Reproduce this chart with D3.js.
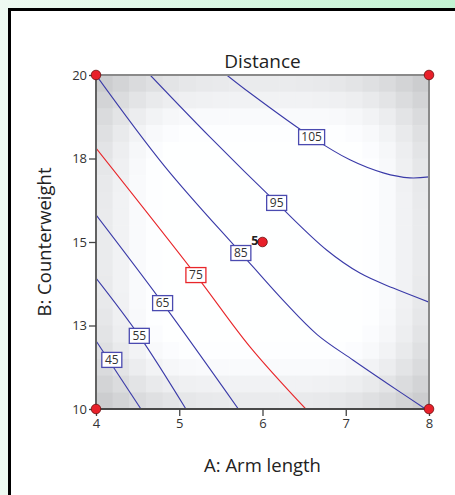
<!DOCTYPE html>
<html>
<head>
<meta charset="utf-8">
<script src="https://cdn.jsdelivr.net/npm/d3@7"></script>
<style>
html, body { margin: 0; padding: 0; }
body { width: 455px; height: 495px; overflow: hidden; font-family: "Open Sans", sans-serif; }
</style>
</head>
<body>
<div id="chart"></div>
<script>
// axis ticks
const xTicks = [4, 5, 6, 7, 8];
const yTicks = [10, 12.5, 15, 17.5, 20];
const yTickLabels = ['10', '13', '15', '18', '20'];

// contour lines, as [A, B] pairs
const contour45 = [[4, 12.04], [4.54, 10]];
const contour55 = [[4, 13.92], [4.52, 12.19], [5.08, 10]];
const contour65 = [[4, 15.81], [4.80, 13.17], [5.71, 10]];
const contour75 = [[4, 17.81], [5.20, 14.01], [5.85, 11.86], [6.52, 10]];
const contour85 = [[4, 20], [4.83, 17.25], [5.74, 14.67], [6.26, 13.22], [6.66, 12.22], [7.09, 11.46], [7.49, 10.78], [7.94, 10.03]];
const contour95 = [[4.65, 20], [5.37, 18.14], [6.17, 16.17], [6.77, 14.76], [7.17, 14.07], [7.57, 13.62], [8, 13.2]];
const contour105 = [[5.57, 20], [5.85, 19.46], [6.59, 18.14], [7.05, 17.46], [7.45, 17.07], [7.77, 16.92], [8, 16.95]];

const contourLevels = [45, 55, 65, 75, 85, 95, 105];
const contourPoints = [contour45, contour55, contour65, contour75, contour85, contour95, contour105];
const labelPos = [[4.19, 11.47], [4.52, 12.19], [4.80, 13.17], [5.20, 14.01], [5.74, 14.67], [6.17, 16.17], [6.59, 18.14]];

// design points
const designA = [4, 4, 8, 8, 6];
const designB = [10, 20, 10, 20, 15];
const designCount = ['', '', '', '', '5'];

// std error shading, one quadrant of the 20x20 grid (gray level, edge -> centre)
const shadeQuadrant = [
    [205, 212, 219, 224, 228, 231, 233, 234, 235, 235],
    [212, 220, 228, 234, 238, 240, 241, 242, 242, 242],
    [219, 228, 237, 243, 247, 249, 250, 250, 250, 250],
    [224, 234, 243, 249, 252, 254, 254, 254, 254, 254],
    [228, 238, 247, 252, 255, 255, 255, 255, 255, 255],
    [231, 240, 249, 254, 255, 255, 255, 255, 255, 255],
    [233, 241, 250, 254, 255, 255, 255, 255, 255, 255],
    [234, 242, 250, 254, 255, 255, 255, 255, 255, 255],
    [235, 242, 250, 254, 255, 255, 255, 255, 255, 255],
    [235, 242, 250, 254, 255, 255, 255, 255, 255, 255]
];

const W = 455, H = 495;
const margin = { left: 96, right: 26, top: 75, bottom: 86 };

const svg = d3.select('#chart').append('svg').attr('width', W).attr('height', H);

const grad = svg.append('defs').append('linearGradient').attr('id', 'bg').attr('x1', 0).attr('x2', 1).attr('y1', 0).attr('y2', 0);
grad.append('stop').attr('offset', 0).attr('stop-color', '#eefaf2');
grad.append('stop').attr('offset', 1).attr('stop-color', '#c3f3d3');
svg.append('rect').attr('width', W).attr('height', H).attr('fill', 'url(#bg)');
svg.append('rect').attr('x', 9.5).attr('y', 9.5).attr('width', W + 20).attr('height', H + 20)
    .attr('fill', '#fff').attr('stroke', '#000').attr('stroke-width', 3);

const x = d3.scaleLinear().domain([4, 8]).range([margin.left, W - margin.right]);
const y = d3.scaleLinear().domain([10, 20]).range([H - margin.bottom, margin.top]);

svg.append('clipPath').attr('id', 'plotclip').append('rect')
    .attr('x', x(4)).attr('y', y(20)).attr('width', x(8) - x(4)).attr('height', y(10) - y(20));

// shading grid
const nCells = 20;
const cells = [];
for (let i = 0; i < nCells; i++) {
    for (let j = 0; j < nCells; j++) {
        const qi = i < 10 ? i : nCells - 1 - i;
        const qj = j < 10 ? j : nCells - 1 - j;
        cells.push({ i, j, g: shadeQuadrant[qj][qi] });
    }
}
const cellA = d3.scaleLinear().domain([0, nCells]).range([4, 8]);
const cellB = d3.scaleLinear().domain([0, nCells]).range([20, 10]);
svg.append('g').selectAll('rect').data(cells).join('rect')
    .attr('x', d => x(cellA(d.i)))
    .attr('y', d => y(cellB(d.j)))
    .attr('width', d => x(cellA(d.i + 1)) - x(cellA(d.i)) + 0.5)
    .attr('height', d => y(cellB(d.j + 1)) - y(cellB(d.j)) + 0.5)
    .attr('fill', d => d3.rgb(d.g - 1, d.g, Math.min(255, d.g + 2)));

// contours
const line = d3.line().x(d => x(d[0])).y(d => y(d[1])).curve(d3.curveCatmullRom.alpha(0.5));
const contours = svg.append('g').attr('clip-path', 'url(#plotclip)');
contours.selectAll('path').data(contourPoints).join('path')
    .attr('d', line)
    .attr('fill', 'none')
    .attr('stroke', (d, i) => contourLevels[i] === 75 ? '#e8262a' : '#3a3aa8')
    .attr('stroke-width', 1.1);

// frame and axes
svg.append('rect').attr('x', x(4)).attr('y', y(20)).attr('width', x(8) - x(4)).attr('height', y(10) - y(20))
    .attr('fill', 'none').attr('stroke', '#8a8a8a').attr('stroke-width', 2);
svg.append('line').attr('x1', x(4)).attr('x2', x(8)).attr('y1', y(10)).attr('y2', y(10)).attr('stroke', '#333').attr('stroke-width', 1.5);
svg.append('line').attr('x1', x(4)).attr('x2', x(4)).attr('y1', y(10)).attr('y2', y(20)).attr('stroke', '#555').attr('stroke-width', 1.5);

const xAxis = svg.append('g').attr('transform', `translate(0,${y(10)})`)
    .call(d3.axisBottom(x).tickValues(xTicks).tickSize(7).tickPadding(3).tickFormat(d3.format('d')));
const yAxis = svg.append('g').attr('transform', `translate(${x(4)},0)`)
    .call(d3.axisLeft(y).tickValues(yTicks).tickSize(7).tickPadding(2).tickFormat((d, i) => yTickLabels[i]));
[xAxis, yAxis].forEach(a => {
    a.select('.domain').remove();
    a.selectAll('line').attr('stroke', '#444').attr('stroke-width', 1.3);
    a.selectAll('text').attr('fill', '#333').attr('font-size', 13).attr('font-family', '"Open Sans", sans-serif');
});

// contour labels
const labels = svg.append('g').selectAll('g').data(contourLevels).join('g')
    .attr('transform', (d, i) => `translate(${x(labelPos[i][0])},${y(labelPos[i][1])})`);
labels.append('rect')
    .attr('x', d => d >= 100 ? -13 : -10).attr('y', -7.5)
    .attr('width', d => d >= 100 ? 26 : 20).attr('height', 15)
    .attr('fill', '#fff')
    .attr('stroke', d => d === 75 ? '#e8262a' : '#4a4ab0')
    .attr('stroke-width', 1.3);
labels.append('text').text(d => d)
    .attr('text-anchor', 'middle').attr('dy', '0.36em')
    .attr('font-size', 12).attr('fill', '#333');

// design points
const pts = svg.append('g').selectAll('g').data(designA.map((a, i) => ({ a, b: designB[i], n: designCount[i] }))).join('g')
    .attr('transform', d => `translate(${x(d.a)},${y(d.b)})`);
pts.append('circle').attr('r', 4.8).attr('fill', '#e8202a').attr('stroke', '#6a1010').attr('stroke-width', 0.8);
pts.append('text')
    .text(d => d.n)
    .attr('x', -4).attr('dy', '0.2em').attr('text-anchor', 'end')
    .attr('font-size', 12.5).attr('font-weight', 'bold').attr('fill', '#222');

// titles
svg.append('text').text('Distance').attr('x', (x(4) + x(8)) / 2).attr('y', 68)
    .attr('text-anchor', 'middle').attr('font-size', 19).attr('fill', '#222');
svg.append('text').text('A: Arm length').attr('x', (x(4) + x(8)) / 2).attr('y', 472)
    .attr('text-anchor', 'middle').attr('font-size', 18.5).attr('fill', '#222');
svg.append('text').text('B: Counterweight')
    .attr('transform', `translate(51,${(y(10) + y(20)) / 2}) rotate(-90)`)
    .attr('text-anchor', 'middle').attr('font-size', 18.5).attr('fill', '#222');
</script>
</body>
</html>
